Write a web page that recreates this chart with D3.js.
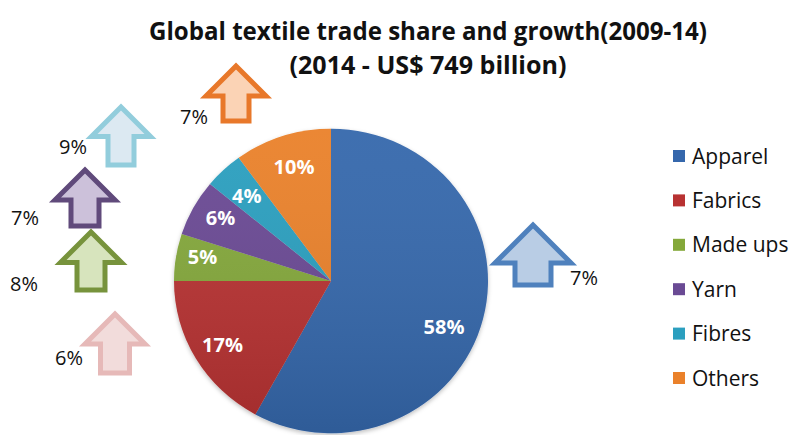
<!DOCTYPE html>
<html>
<head>
<meta charset="utf-8">
<script src="https://cdn.jsdelivr.net/npm/d3@7"></script>
<style>
  html, body { margin: 0; padding: 0; background: #ffffff; }
  svg { display: block; }
  text { font-family: "Open Sans", "DejaVu Sans", sans-serif; }
</style>
</head>
<body>
<svg id="chart" width="789" height="435"></svg>
<script>
// Global textile trade 2014: share by segment and growth 2009-14
const categories = ["Apparel", "Fabrics", "Made ups", "Yarn", "Fibres", "Others"];
const shareValues = [58, 17, 5, 6, 4, 10];      // % of 2014 trade
const growthValues = [7, 6, 8, 7, 9, 7];        // % growth 2009-14
const titleLines = ["Global textile trade share and growth(2009-14)", "(2014 - US$ 749 billion)"];

const colors = ["#3567ac", "#b83232", "#84a83a", "#6a4a94", "#2b9fbf", "#ea812a"];
const arrowStroke = ["#4f81bd", "#e6b9b8", "#77933c", "#604a7b", "#92cddc", "#e8782a"];
const arrowFill   = ["#b9cde5", "#f2dcdb", "#d7e4bd", "#ccc1da", "#dce9f2", "#fbd3b5"];

// growth arrow placement (cx, tip y, width, height, shaft width) and label spot
const arrowLayout = [
  { cx: 533, top: 225, w: 76, h: 60, shaft: 36, lx: 584, ly: 278 },
  { cx: 115, top: 314, w: 60, h: 59, shaft: 29, lx: 69,  ly: 358 },
  { cx: 91,  top: 232, w: 61, h: 58, shaft: 28, lx: 24,  ly: 284 },
  { cx: 85,  top: 170, w: 60, h: 56, shaft: 28, lx: 25,  ly: 218 },
  { cx: 121, top: 107, w: 59, h: 58, shaft: 26, lx: 73,  ly: 147 },
  { cx: 236, top: 66,  w: 60, h: 55, shaft: 26, lx: 194, ly: 117 }
];
// small label nudges inside the pie
const labelNudge = [[-9, 15], [0, 2], [-4, -5], [0, -4], [2, 4], [2, 2]];

const data = categories.map((c, i) => ({
  name: c, share: shareValues[i], growth: growthValues[i], color: colors[i]
}));

const svg = d3.select("#chart");
const defs = svg.append("defs");

const shade = defs.append("linearGradient").attr("id", "pieShade")
  .attr("x1", 0).attr("y1", 0).attr("x2", 0).attr("y2", 1);
shade.append("stop").attr("offset", "0%").attr("stop-color", "#ffffff").attr("stop-opacity", 0.05);
shade.append("stop").attr("offset", "100%").attr("stop-color", "#000000").attr("stop-opacity", 0.12);

const shadow = defs.append("filter").attr("id", "pieShadow")
  .attr("x", "-10%").attr("y", "-10%").attr("width", "120%").attr("height", "120%");
shadow.append("feDropShadow").attr("dx", 0).attr("dy", 2).attr("stdDeviation", 2)
  .attr("flood-color", "#000").attr("flood-opacity", 0.25);

// --- pie ---
const cx = 331, cy = 281, R = 157, sy = 0.97;
const pie = d3.pie().sort(null).value(d => d.share);
const arc = d3.arc().innerRadius(0).outerRadius(R);
const labelArc = d3.arc().innerRadius(126).outerRadius(126);
const arcs = pie(data);

const pieG = svg.append("g")
  .attr("transform", `translate(${cx},${cy}) scale(1,${sy})`);
const slices = pieG.append("g").attr("filter", "url(#pieShadow)");
slices.selectAll("path.slice").data(arcs).join("path")
  .attr("class", "slice")
  .attr("d", arc)
  .attr("fill", d => d.data.color);
pieG.append("circle").attr("r", R).attr("fill", "url(#pieShade)");

svg.append("g").selectAll("text").data(arcs).join("text")
  .attr("x", (d, i) => cx + labelArc.centroid(d)[0] + labelNudge[i][0])
  .attr("y", (d, i) => cy + labelArc.centroid(d)[1] * sy + labelNudge[i][1])
  .attr("text-anchor", "middle")
  .attr("dy", "0.36em")
  .attr("fill", "#ffffff")
  .attr("font-weight", 700)
  .attr("font-size", 20)
  .text(d => d.data.share + "%");

// --- growth arrows ---
function blockArrow(a) {
  const half = a.w / 2, sh = a.shaft / 2, head = a.w / 2;
  const p = d3.path();
  p.moveTo(a.cx, a.top);
  p.lineTo(a.cx + half, a.top + head);
  p.lineTo(a.cx + sh, a.top + head);
  p.lineTo(a.cx + sh, a.top + a.h);
  p.lineTo(a.cx - sh, a.top + a.h);
  p.lineTo(a.cx - sh, a.top + head);
  p.lineTo(a.cx - half, a.top + head);
  p.closePath();
  return p.toString();
}
const arrows = svg.append("g");
arrows.selectAll("path").data(data).join("path")
  .attr("d", (d, i) => blockArrow(arrowLayout[i]))
  .attr("fill", (d, i) => arrowFill[i])
  .attr("stroke", (d, i) => arrowStroke[i])
  .attr("stroke-width", 5)
  .attr("stroke-linejoin", "miter");
arrows.selectAll("text").data(data).join("text")
  .attr("x", (d, i) => arrowLayout[i].lx)
  .attr("y", (d, i) => arrowLayout[i].ly)
  .attr("dy", "0.36em")
  .attr("text-anchor", "middle")
  .attr("font-size", 20)
  .attr("fill", "#111")
  .text(d => d.growth + "%");

// --- title ---
const title = svg.append("g").attr("font-weight", 700).attr("font-size", 25)
  .attr("fill", "#111").attr("text-anchor", "middle");
title.append("text").attr("x", 428).attr("y", 40)
  .attr("textLength", 558).attr("lengthAdjust", "spacingAndGlyphs").text(titleLines[0]);
title.append("text").attr("x", 428).attr("y", 74)
  .attr("textLength", 277).attr("lengthAdjust", "spacingAndGlyphs").text(titleLines[1]);

// --- legend ---
const legendY = d3.scalePoint().domain(categories).range([156, 378]);
const legend = svg.append("g").selectAll("g").data(data).join("g")
  .attr("transform", d => `translate(673,${legendY(d.name)})`);
legend.append("rect").attr("x", 0).attr("y", -6).attr("width", 12).attr("height", 12)
  .attr("fill", d => d.color);
legend.append("text").attr("x", 19).attr("dy", "0.36em")
  .attr("font-size", 21).attr("fill", "#111")
  .text(d => d.name);
</script>
</body>
</html>
